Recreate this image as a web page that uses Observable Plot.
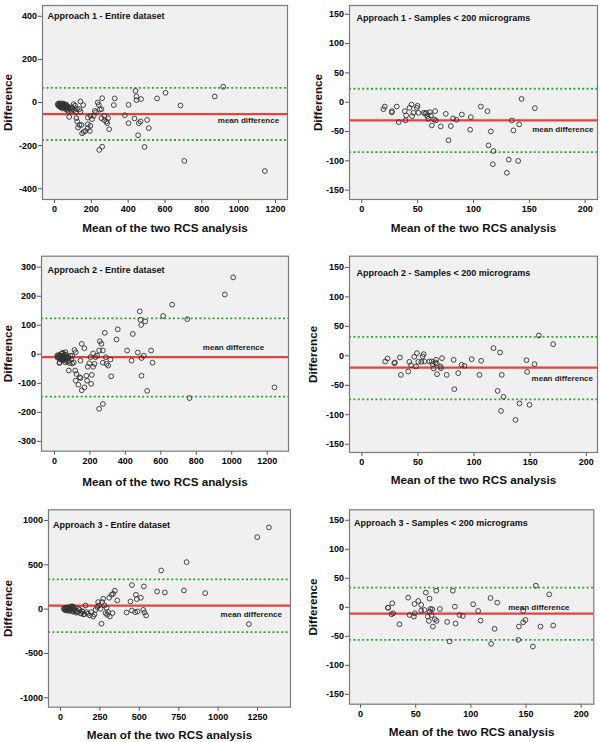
<!DOCTYPE html>
<html><head><meta charset="utf-8">
<script src="https://cdn.jsdelivr.net/npm/d3@7"></script>
<script src="https://cdn.jsdelivr.net/npm/@observablehq/plot@0.6"></script>
<style>
body{margin:0;background:#fff;}
#wrap{position:relative;width:600px;height:742px;overflow:hidden;font-family:"Liberation Sans",Arial,sans-serif;}
#wrap > div{position:absolute;}
svg{overflow:visible;}
</style></head><body><div id="wrap"></div>
<script>
// ---- data: [mean of the two RCS analyses, difference] ----
const approach1All = [[18,-10],[20,-6],[22,-14],[24,-4],[26,-12],[28,-20],[30,-18],[32,-8],[33,-10],[35,-14],[36,-22],[38,-4],[40,-15],[42,-28],[44,-18],[45,-8],[47,-12],[48,-20],[50,-12],[52,-6],[53,-25],[55,-14],[56,-18],[58,-22],[60,-30],[62,-15],[64,-10],[65,-22],[68,-35],[70,-28],[72,-18],[74,-20],[78,-40],[80,-67],[84,-30],[88,-25],[92,-38],[96,-22],[100,-30],[104,-8],[108,-35],[112,-15],[116,-45],[122,-30],
[119,-73],[123,-88],[128,-116],[136,-104],[136,-31],[141,5],[141,-42],[147,-104],[150,-143],[156,-12],[159,-136],[168,-132],[181,-70],[181,-101],[181,-119],[192,-132],[195,-62],[195,-108],[204,-77],[213,-62],[219,-39],[226,-46],[235,0],[241,-11],[243,-220],[246,-33],[255,-31],[255,-73],[259,20],[259,-205],[271,-62],[271,-82],[282,-88],[286,-96],[291,-73],[297,-124],[322,-12],[327,19],[382,-59],[402,-11],[402,-96],[434,-74],[440,54],[445,28],[445,11],[454,-152],[458,-96],[467,-88],[470,16],[489,-206],[503,-81],[512,-119],[557,19],[603,45],[684,-14],[705,-271],[870,28],[916,73],[1142,-318]];
const approach1Small = [[19.4,-11.9],[20.6,-7.4],[26.9,-15.3],[26.9,-17.5],[31.3,-7.4],[33.1,-34],[38.5,-15.3],[39.1,-31],[39.7,-22.6],[42.7,-9.6],[44.5,-4],[45,-23.8],[46.3,-18.1],[49.3,-9.6],[49.9,-6.2],[50.7,-18.1],[55.5,-18.1],[56.7,-19.8],[57.6,-18.1],[58.8,-23.8],[59.4,-28.3],[61,-17],[61.8,-22.6],[62.7,-39.6],[64.8,-29.4],[65.7,-15.3],[66.3,-31.1],[70.7,-41.3],[75.2,-19.8],[77.6,-65],[79.7,-40.7],[81.8,-27.7],[84.8,-30],[89.6,-21],[97,-47],[97.6,-25.5],[106.6,-7.4],[112.5,-15.3],[113.4,-73.6],[115.5,-49.8],[117.3,-105.8],[117.9,-83.2],[129.9,-120.5],[131.6,-97.9],[134.3,-31.1],[135.8,-48.1],[140,-100.2],[140.9,-37.9],[143,5.7],[154.9,-10.2]];
const approach2All = [[15,-5],[18,-12],[20,-8],[22,-2],[25,-12],[28,-30],[30,-28],[32,-5],[34,-18],[36,-15],[38,-10],[40,2],[42,-6],[43,-20],[44,-10],[45,3],[47,-14],[48,5],[50,-8],[52,-18],[53,-5],[55,-12],[56,-3],[58,-16],[60,-12],[62,7],[62,-28],[64,-22],[66,-2],[68,-8],[71,-13],[72,-15],[76,-25],[80,-10],[81,-22],[81,-56],[85,-30],[90,-5],[95,-18],[100,-5],[100,-32],[109,-28],
[113,15],[117,-56],[120,7],[120,-91],[124,-68],[135,-105],[143,-79],[147,-82],[147,-22],[154,36],[154,-124],[169,21],[169,-114],[180,-74],[184,-91],[188,-43],[196,-31],[203,-10],[207,-102],[211,-71],[218,3],[218,-43],[226,-33],[231,-10],[241,-5],[252,13],[252,-188],[256,45],[265,36],[273,13],[273,-29],[273,-171],[284,74],[290,-10],[294,-33],[303,-39],[316,-18],[320,-76],[350,51],[357,86],[410,13],[435,-22],[442,70],[470,6],[481,148],[485,119],[489,101],[491,-13],[491,-74],[504,-5],[512,113],[523,-126],[545,13],[553,-29],[613,132],[664,171],[749,121],[762,-151],[961,206],[1008,265],[1241,-114]];
const approach2Small = [[20.8,-9.6],[22.9,-4.5],[28.9,-12.5],[29.5,-11.3],[33.9,-2.8],[34.8,-32.3],[41.4,-26.6],[42.3,-10.2],[43.8,-15.8],[46.7,-1.7],[48.2,-18.1],[49.1,4.5],[50.3,-10.2],[53,-10.2],[54.2,-1.1],[55.1,2.8],[55.7,-9.6],[60.1,-9.6],[62.2,-9.6],[63.1,-14.1],[64,-21.5],[65.5,-11.3],[66.1,-6.8],[66.7,-13],[67,-31.1],[70,-18.1],[70.5,-21],[71.4,-4],[75.6,-32.3],[81.8,-6.8],[82.4,-56.6],[85.9,-29.4],[88.9,-15.3],[91.4,-17],[97.9,-5.7],[104.8,-32.3],[106.3,-8.5],[117.3,13],[121,-59.4],[123.2,5.7],[124,-93.4],[124.7,-32.3],[126.2,-69.6],[136.9,-108.7],[140.5,-80.9],[146.7,-7.4],[147.3,-27.2],[149.4,-83.2],[153.9,-14.1],[157.7,34.5],[170.5,19.8]];
const approach3All = [[21,4],[25,-5],[28,12],[30,10],[32,-15],[35,-10],[38,6],[40,0],[42,15],[45,20],[48,-4],[50,-20],[53,-8],[55,5],[58,14],[60,-15],[63,4],[65,25],[68,30],[70,-5],[74,-23],[75,30],[78,8],[80,-30],[85,23],[85,10],[90,-20],[95,-15],[100,-40],[106,-34],[110,-25],[116,4],[120,-10],[127,-45],[130,-50],[137,-23],[140,-30],[148,-60],[150,-55],[159,41],[165,-34],[173,-53],[186,-71],[195,-34],[207,-83],[216,-60],[222,-8],[233,23],[239,79],[245,41],[254,4],[260,-165],[264,79],[271,117],[279,41],[286,-45],[292,15],[296,-64],[302,-34],[309,128],[313,-83],[324,162],[330,-45],[334,173],[345,207],[360,98],[419,-38],[444,86],[453,271],[453,-15],[474,-34],[478,162],[484,113],[489,-26],[510,128],[525,-8],[529,256],[533,-38],[543,-71],[613,199],[639,436],[662,188],[783,211],[800,530],[918,180],[1195,-169],[1248,812],[1322,921]];
const approach3Small = [[24.8,-0.6],[25.1,-1],[28.7,6.9],[28.1,-12],[29.6,-10.3],[35.3,-29.2],[43.2,16.6],[44.4,-13.2],[48.3,-16],[48.9,5.7],[49.2,-10.3],[52.3,10.9],[55,4],[55,-5.7],[58,-4.6],[59.2,25.2],[61,-16],[61.9,-23.5],[62.5,14.9],[62.8,-7.4],[63.4,-2.9],[64.4,-13.7],[65,-3.4],[65.6,-33.2],[67.4,-20.6],[68.6,28.6],[68.9,-23.5],[71.9,-2.9],[78.5,-25.2],[80.7,-59],[83.7,28.6],[85.5,1.1],[86.1,-28],[89.7,-13.2],[92.7,-14.9],[102.1,5.2],[106.6,-6.3],[108.8,-22.9],[117.8,16],[118.4,-63],[121.5,-37.2],[123.9,8],[142.9,-56.1],[143.5,-33.2],[147.4,-25.8],[147.4,-6.3],[149.5,-21.8],[156.2,-67.6],[158.9,37.2],[163.1,-33.2],[171,22.3],[174.6,-31.5]];

const panelTitles = ["Approach 1 - Entire dataset","Approach 1 - Samples < 200 micrograms","Approach 2 - Entire dataset","Approach 2 - Samples < 200 micrograms","Approach 3 - Entire dataset","Approach 3 - Samples < 200 micrograms"];
const meanDiff = [-54,-31,-10,-20,40,-11];
const upperLimit = [68,23,124,32,335,34];
const lowerLimit = [-174,-85,-146,-74,-259,-56];
const xTicksAll12 = [0,200,400,600,800,1000,1200];
const xTicksAll13 = [0,250,500,750,1000,1250];
const xTicksSmall = [0,50,100,150,200];
const yTicks1 = [-400,-200,0,200,400];
const yTicks3 = [-300,-200,-100,0,100,200,300];
const yTicks5 = [-1000,-500,0,500,1000];
const yTicksSmall = [-150,-100,-50,0,50,100,150];
const xTitle = "Mean of the two RCS analysis";
const yTitle = "Difference";
const meanLabel = "mean difference";

const datasets = [approach1All, approach1Small, approach2All, approach2Small, approach3All, approach3Small];
const xTickSets = [xTicksAll12, xTicksSmall, xTicksAll12, xTicksSmall, xTicksAll13, xTicksSmall];
const yTickSets = [yTicks1, yTicksSmall, yTicks3, yTicksSmall, yTicks5, yTicksSmall];

// ---- layout ----
const layout = [
  {left:0,  top:0,   w:300, h:240, ml:42, mr:13, mt:5,    mb:41,   xd:[-65,1265], yd:[-450,450],  tdx:5,  tdy:11, mdx:1053, mdy:-85, xtdy:29, ytdx:-34},
  {left:300,top:0,   w:300, h:240, ml:49, mr:3,  mt:5,    mb:41,   xd:[-11,211],  yd:[-166,165],  tdx:7,  tdy:13, mdx:180,  mdy:-46, xtdy:29, ytdx:-31},
  {left:0,  top:240, w:300, h:250, ml:41, mr:12, mt:15.7, mb:39.3, xd:[-73,1320], yd:[-334,338],  tdx:6,  tdy:14, mdx:1010, mdy:24,  xtdy:31, ytdx:-33},
  {left:300,top:240, w:300, h:250, ml:49, mr:3,  mt:15.7, mb:38,   xd:[-11,210],  yd:[-164,169],  tdx:7,  tdy:16.5,mdx:178.6,mdy:-38, xtdy:28, ytdx:-36},
  {left:0,  top:490, w:300, h:252, ml:48, mr:10, mt:19.3, mb:35.3, xd:[-76,1459], yd:[-1106,1120],tdx:4.5,tdy:15, mdx:1210, mdy:-64, xtdy:28, ytdx:-40.7},
  {left:300,top:490, w:300, h:252, ml:49, mr:6.7,mt:19.3, mb:38.3, xd:[-10,211.4],yd:[-167,168],  tdx:4.5,tdy:13, mdx:161.6,mdy:0.6, xtdy:28, ytdx:-36}
];

const FONT = '"Liberation Sans", Arial, sans-serif';
const wrap = document.getElementById("wrap");

layout.forEach((L, i) => {
  const pts = datasets[i].map(([x, y]) => ({x, y}));
  const fmt = d => String(d);
  const chart = Plot.plot({
    width: L.w, height: L.h,
    marginLeft: L.ml, marginRight: L.mr, marginTop: L.mt, marginBottom: L.mb,
    x: {domain: L.xd},
    y: {domain: L.yd},
    style: {fontFamily: FONT, fontWeight: "bold", background: "transparent", color: "#000", overflow: "visible"},
    marks: [
      Plot.frame({fill: "#f0f0f0", stroke: null}),
      Plot.ruleY([upperLimit[i], lowerLimit[i]], {stroke: "#2ea82e", strokeWidth: 1.8, strokeDasharray: "2,2.4"}),
      Plot.ruleY([meanDiff[i]], {stroke: "#e6403f", strokeWidth: 2.3}),
      Plot.dot(pts, {x: "x", y: "y", r: 2.4, stroke: "#333", strokeWidth: 0.9, fill: "none"}),
      Plot.text([panelTitles[i]], {text: d => d, frameAnchor: "top-left", dx: L.tdx, dy: L.tdy, textAnchor: "start", lineAnchor: "middle", fontSize: 9, fontWeight: "bold", fill: "#111"}),
      Plot.text([{x: L.mdx, y: L.mdy}], {x: "x", y: "y", text: () => meanLabel, textAnchor: "middle", lineAnchor: "middle", fontSize: 8, fontWeight: "bold", fill: "#222"}),
      Plot.axisY({ticks: yTickSets[i], tickSize: 4, tickPadding: 1.5, tickFormat: fmt, fontSize: 9, fontWeight: "bold", label: null, stroke: "#555"}),
      Plot.axisX({ticks: xTickSets[i], tickSize: 4, tickPadding: 2, tickFormat: fmt, fontSize: 9, fontWeight: "bold", label: null, stroke: "#555"}),
      Plot.frame({stroke: "#7a7a7a", strokeWidth: 1.2}),
      Plot.text([xTitle], {text: d => d, frameAnchor: "bottom", dy: L.xtdy, textAnchor: "middle", lineAnchor: "middle", fontSize: 11.7, fontWeight: "bold", fill: "#111"}),
      Plot.text([yTitle], {text: d => d, frameAnchor: "left", dx: L.ytdx, rotate: -90, textAnchor: "middle", lineAnchor: "middle", fontSize: 11.7, fontWeight: "bold", fill: "#111"})
    ]
  });
  const box = document.createElement("div");
  box.style.left = L.left + "px";
  box.style.top = L.top + "px";
  box.appendChild(chart);
  wrap.appendChild(box);
});
</script>
</body></html>
